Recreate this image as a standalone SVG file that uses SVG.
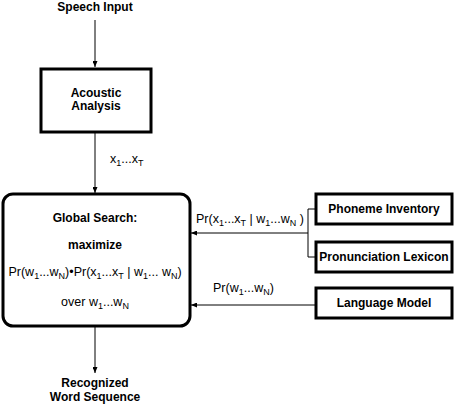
<svg xmlns="http://www.w3.org/2000/svg" width="459" height="404" viewBox="0 0 459 404">
<style>
.b{font-family:"Liberation Sans",Arial,sans-serif;font-weight:bold;font-size:12px;fill:#000;text-anchor:middle}
.r{font-family:"Liberation Sans",Arial,sans-serif;font-size:12.5px;fill:#000}
.box{fill:#fff;stroke:#000;stroke-width:3}
.ln{fill:none;stroke:#000;stroke-width:1}
.s{font-size:9px;fill:#000}
</style>
<defs>
<marker id="ah" markerWidth="6" markerHeight="5" refX="6" refY="2.5" orient="auto" markerUnits="userSpaceOnUse">
<path d="M0,0 L6,2.5 L0,5 Z" fill="#000"/>
</marker>
</defs>
<rect width="459" height="404" fill="#fff"/>
<g id="connectors">
<line class="ln" x1="95" y1="20" x2="95" y2="67" marker-end="url(#ah)"/>
<line class="ln" x1="95" y1="133" x2="95" y2="193" marker-end="url(#ah)"/>
<line class="ln" x1="95" y1="327" x2="95" y2="373" marker-end="url(#ah)"/>
<polyline class="ln" points="315,209 308,209 308,257 315,257"/>
<line class="ln" x1="308" y1="233" x2="191" y2="233" marker-end="url(#ah)"/>
<line class="ln" x1="315" y1="305" x2="191" y2="305" marker-end="url(#ah)"/>
<text class="r" x="110" y="163">x<tspan class="s" dy="3">1</tspan><tspan dy="-3">...x</tspan><tspan class="s" dy="3">T</tspan></text>
<text class="r" x="196" y="223">Pr(x<tspan class="s" dy="3">1</tspan><tspan dy="-3">...x</tspan><tspan class="s" dy="3">T</tspan><tspan dy="-3"> | w</tspan><tspan class="s" dy="3">1</tspan><tspan dy="-3">...w</tspan><tspan class="s" dy="3">N</tspan><tspan dy="-3"> )</tspan></text>
<text class="r" x="213" y="292">Pr(w<tspan class="s" dy="3">1</tspan><tspan dy="-3">...w</tspan><tspan class="s" dy="3">N</tspan><tspan dy="-3">)</tspan></text>
</g>
<g id="speech-input"><text class="b" x="95" y="11">Speech Input</text></g>
<g id="acoustic-analysis">
<rect class="box" x="41" y="69" width="110" height="63"/>
<text class="b" x="96" y="97">Acoustic</text>
<text class="b" x="96" y="110">Analysis</text>
</g>
<g id="global-search">
<rect class="box" x="3" y="194" width="187" height="132" rx="10" ry="10"/>
<text class="b" x="95" y="222">Global Search:</text>
<text class="b" x="95" y="249">maximize</text>
<text class="r" x="95" y="276" text-anchor="middle">Pr(w<tspan class="s" dy="3">1</tspan><tspan dy="-3">...w</tspan><tspan class="s" dy="3">N</tspan><tspan dy="-3">)•Pr(x</tspan><tspan class="s" dy="3">1</tspan><tspan dy="-3">...x</tspan><tspan class="s" dy="3">T</tspan><tspan dy="-3"> | w</tspan><tspan class="s" dy="3">1</tspan><tspan dy="-3">... w</tspan><tspan class="s" dy="3">N</tspan><tspan dy="-3">)</tspan></text>
<text class="r" x="95" y="306" text-anchor="middle">over  w<tspan class="s" dy="3">1</tspan><tspan dy="-3">...w</tspan><tspan class="s" dy="3">N</tspan></text>
</g>
<g id="phoneme-inventory">
<rect class="box" x="316" y="194" width="136" height="30"/>
<text class="b" x="384" y="213">Phoneme Inventory</text>
</g>
<g id="pronunciation-lexicon">
<rect class="box" x="316" y="242" width="136" height="30"/>
<text class="b" x="384" y="261">Pronunciation Lexicon</text>
</g>
<g id="language-model">
<rect class="box" x="316" y="288" width="136" height="30"/>
<text class="b" x="384" y="307">Language Model</text>
</g>
<g id="recognized">
<text class="b" x="95" y="387">Recognized</text>
<text class="b" x="95" y="401">Word Sequence</text>
</g>
</svg>
